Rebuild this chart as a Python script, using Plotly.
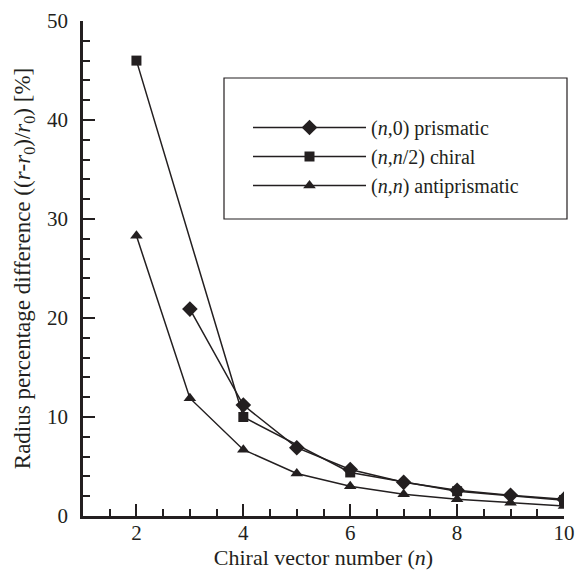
import plotly.graph_objects as go

# Radius percentage difference vs chiral vector number
n_prismatic = [3, 4, 5, 6, 7, 8, 9, 10]
v_prismatic = [20.9, 11.2, 6.9, 4.7, 3.4, 2.6, 2.1, 1.7]

n_chiral = [2, 4, 6, 8, 10]
v_chiral = [46.0, 10.0, 4.4, 2.5, 1.6]

n_anti = [2, 3, 4, 5, 6, 7, 8, 9, 10]
v_anti = [28.3, 11.9, 6.7, 4.3, 3.0, 2.2, 1.7, 1.35, 1.0]

labels = [
    "(<i>n</i>,0) prismatic",
    "(<i>n</i>,<i>n</i>/2) chiral",
    "(<i>n</i>,<i>n</i>) antiprismatic",
]

INK = "#231f20"
FONT = "Liberation Serif"

fig = go.Figure()
series = [
    (n_prismatic, v_prismatic, "diamond", 12),
    (n_chiral, v_chiral, "square", 10),
    (n_anti, v_anti, "triangle-up", 11),
]
for (x, y, sym, sz), name in zip(series, labels):
    fig.add_trace(go.Scatter(
        x=x, y=y, name=name, mode="lines+markers",
        line=dict(color=INK, width=1.5),
        marker=dict(symbol=sym, size=sz, color=INK),
    ))

major = dict(
    showgrid=False, zeroline=False, automargin=False,
    showline=True, linecolor=INK, linewidth=2.5,
    tickmode="linear", tick0=0,
    ticks="inside", ticklen=12, tickwidth=2, tickcolor=INK,
    tickfont=dict(family=FONT, size=21, color=INK),
)
minor_ticks = dict(ticks="inside", tick0=0, ticklen=7, tickwidth=1.5, tickcolor=INK)

fig.update_layout(
    xaxis=dict(
        range=[1, 10], dtick=2, ticklabelstandoff=-4,
        minor=dict(dtick=0.5, **minor_ticks),
        title=dict(text="Chiral vector number (<i>n</i>)",
                   font=dict(family=FONT, size=22, color=INK), standoff=2),
        **major,
    ),
    yaxis=dict(
        range=[0, 50], dtick=10, ticklabelstandoff=8,
        minor=dict(dtick=2, **minor_ticks),
        title=dict(text="Radius percentage difference ((<i>r</i>-<i>r</i><sub>0</sub>)/<i>r</i><sub>0</sub>) [%]",
                   font=dict(family=FONT, size=23, color=INK), standoff=10),
        **major,
    ),
)

# Framed legend area
fig.add_shape(type="rect", xref="paper", yref="paper",
              x0=(224 - 83) / 481, x1=(567 - 83) / 481,
              y0=(516 - 219) / 495, y1=(516 - 78) / 495,
              line=dict(color=INK, width=1.2), fillcolor="rgba(0,0,0,0)")

fig.update_layout(
    width=578, height=571,
    margin=dict(l=83, r=14, t=21, b=55),
    paper_bgcolor="white", plot_bgcolor="white",
    showlegend=True,
    legend=dict(
        x=(248 - 83) / 481, y=(516 - 108) / 495, xanchor="left", yanchor="top",
        bgcolor="rgba(0,0,0,0)", borderwidth=0,
        font=dict(family=FONT, size=20, color=INK),
        itemwidth=113, tracegroupgap=0,
    ),
)

fig.write_html("out.html")
